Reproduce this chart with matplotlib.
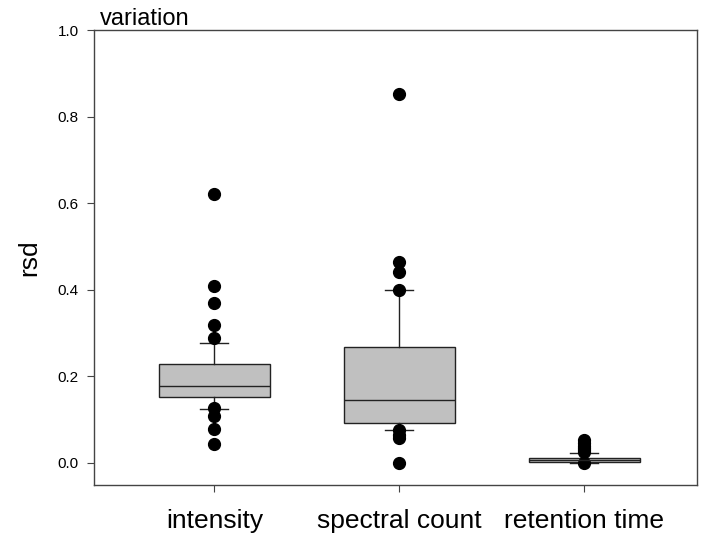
import matplotlib
matplotlib.use('Agg')
import matplotlib.pyplot as plt

plt.rcParams['font.family'] = ['Liberation Sans', 'DejaVu Sans']

groups = ['intensity', 'spectral count', 'retention time']
q1 = [0.153, 0.093, 0.002]
med = [0.178, 0.145, 0.006]
q3 = [0.228, 0.269, 0.012]
whislo = [0.124, 0.076, 0.001]
whishi = [0.276, 0.400, 0.022]
fliers = [
    [0.621, 0.409, 0.369, 0.318, 0.289, 0.126, 0.109, 0.078, 0.044],
    [0.852, 0.465, 0.440, 0.400, 0.075, 0.065, 0.058, 0.0],
    [0.052, 0.046, 0.040, 0.035, 0.030, 0.025, 0.0],
]

stats = []
for i, g in enumerate(groups):
    stats.append({'label': g, 'q1': q1[i], 'med': med[i], 'q3': q3[i],
                  'whislo': whislo[i], 'whishi': whishi[i], 'fliers': fliers[i]})

fig = plt.figure(figsize=(7.08, 5.38), dpi=100)
ax = fig.add_axes([0.133, 0.0985, 0.8515, 0.8455])
ax.bxp(stats, positions=[1, 2, 3], widths=0.6, patch_artist=True,
       boxprops=dict(facecolor='#c0c0c0', edgecolor='#222222', linewidth=1),
       medianprops=dict(color='#222222', linewidth=1),
       whiskerprops=dict(color='#222222', linewidth=1),
       capprops=dict(color='#222222', linewidth=1),
       capwidths=0.15,
       flierprops=dict(marker='o', markerfacecolor='black', markeredgecolor='black', markersize=8.5))

ax.set_xlim(0.35, 3.61)
ax.set_ylim(-0.051, 1.0)
ax.set_yticks([0.0, 0.2, 0.4, 0.6, 0.8, 1.0])
ax.set_yticklabels(['0.0', '0.2', '0.4', '0.6', '0.8', '1.0'])
ax.set_xticks([1, 2, 3])
ax.set_xticklabels(groups, fontsize=19)
ax.tick_params(axis='y', direction='out', length=5, pad=6, labelsize=11, color='#444444')
ax.tick_params(axis='x', direction='out', length=5, pad=12, color='#444444')
for s in ax.spines.values():
    s.set_color('#444444')
    s.set_linewidth(1)
ax.set_ylabel('rsd', fontsize=19, labelpad=12)
ax.text(0.01, 1.0, 'variation', transform=ax.transAxes, fontsize=17, ha='left', va='bottom')

fig.savefig('out.png')
